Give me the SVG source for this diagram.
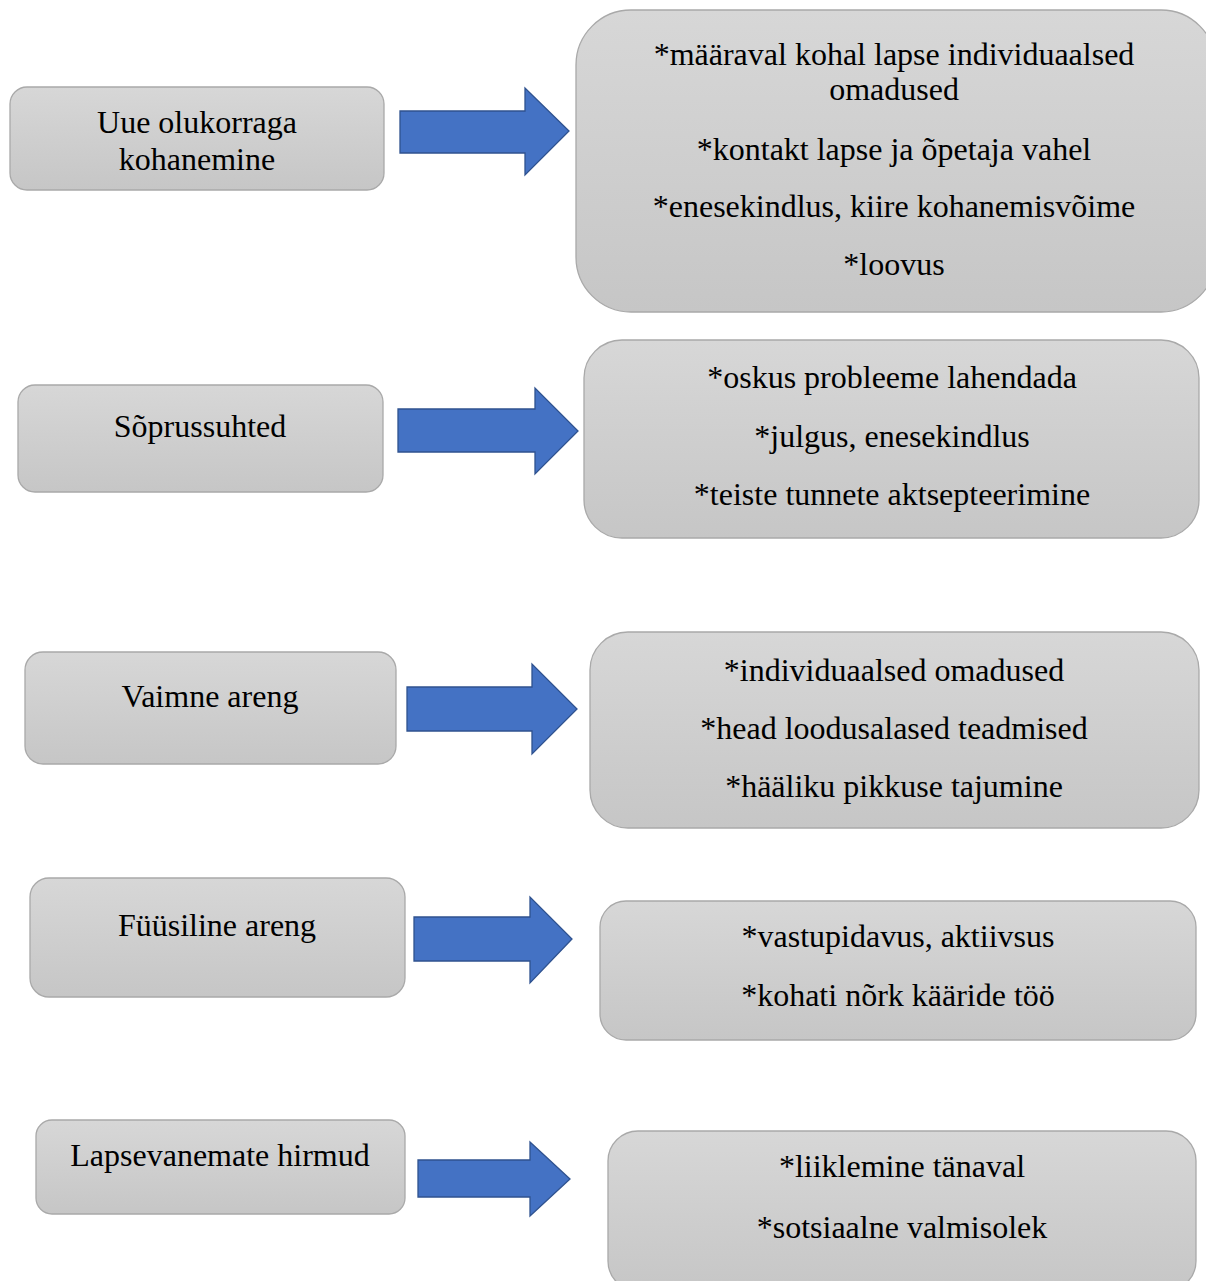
<svg xmlns="http://www.w3.org/2000/svg" width="1206" height="1281" viewBox="0 0 1206 1281">
<defs>
<linearGradient id="g" x1="0" y1="0" x2="0" y2="1">
<stop offset="0" stop-color="#d7d7d7"/>
<stop offset="1" stop-color="#c6c6c6"/>
</linearGradient>
</defs>
<style>
.box{fill:url(#g);stroke:#a9a9a9;stroke-width:1.3}
.arr{fill:#4472c4;stroke:#2f528f;stroke-width:1.3}
text{font-family:"Liberation Serif","Times New Roman",serif;font-size:32px;fill:#000;text-anchor:middle}
</style>
<rect width="1206" height="1281" fill="#fff"/>
<g id="connectors">
<path class="arr" d="M400,111 H525 V88 L569,131 L525,175 V153 H400 Z"/>
<path class="arr" d="M398,409 H535 V388 L578,431 L535,474 V452 H398 Z"/>
<path class="arr" d="M407,687 H532 V664 L577,709 L532,754 V731 H407 Z"/>
<path class="arr" d="M414,917 H530 V897 L572,939 L530,983 V961 H414 Z"/>
<path class="arr" d="M418,1160 H530 V1142 L570,1179 L530,1216 V1197 H418 Z"/>
</g>
<g id="n1"><rect class="box" x="10" y="87" width="374" height="103" rx="17"/><text x="197" y="133">Uue olukorraga</text><text x="197" y="170">kohanemine</text></g>
<g id="n1r"><rect class="box" x="576" y="10" width="640" height="302" rx="55"/><text x="894" y="65">*määraval kohal lapse individuaalsed</text><text x="894" y="100">omadused</text><text x="894" y="160">*kontakt lapse ja õpetaja vahel</text><text x="894" y="217">*enesekindlus, kiire kohanemisvõime</text><text x="894" y="275">*loovus</text></g>
<g id="n2"><rect class="box" x="18" y="385" width="365" height="107" rx="17"/><text x="200" y="437">Sõprussuhted</text></g>
<g id="n2r"><rect class="box" x="584" y="340" width="615" height="198" rx="38"/><text x="892" y="388">*oskus probleeme lahendada</text><text x="892" y="447">*julgus, enesekindlus</text><text x="892" y="505">*teiste tunnete aktsepteerimine</text></g>
<g id="n3"><rect class="box" x="25" y="652" width="371" height="112" rx="18"/><text x="210" y="707">Vaimne areng</text></g>
<g id="n3r"><rect class="box" x="590" y="632" width="609" height="196" rx="38"/><text x="894" y="681">*individuaalsed omadused</text><text x="894" y="739">*head loodusalased teadmised</text><text x="894" y="797">*hääliku pikkuse tajumine</text></g>
<g id="n4"><rect class="box" x="30" y="878" width="375" height="119" rx="19"/><text x="217" y="936">Füüsiline areng</text></g>
<g id="n4r"><rect class="box" x="600" y="901" width="596" height="139" rx="26"/><text x="898" y="947">*vastupidavus, aktiivsus</text><text x="898" y="1006">*kohati nõrk kääride töö</text></g>
<g id="n5"><rect class="box" x="36" y="1120" width="369" height="94" rx="16"/><text x="220" y="1166">Lapsevanemate hirmud</text></g>
<g id="n5r"><rect class="box" x="608" y="1131" width="588" height="160" rx="30"/><text x="902" y="1177">*liiklemine tänaval</text><text x="902" y="1238">*sotsiaalne valmisolek</text></g>
</svg>
